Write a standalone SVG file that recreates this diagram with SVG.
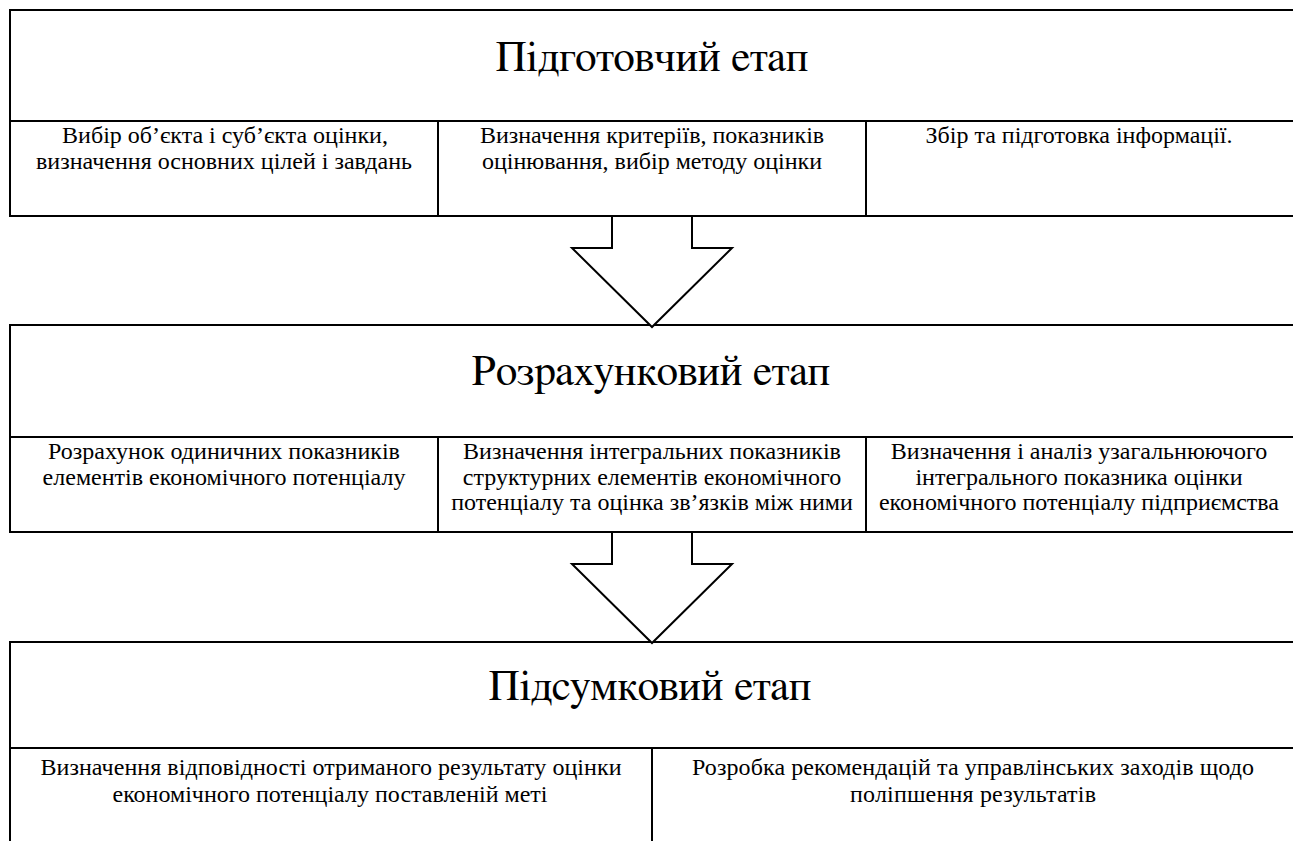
<svg xmlns="http://www.w3.org/2000/svg" width="1293" height="841" viewBox="0 0 1293 841">
<style>
.box{fill:none;stroke:#000;stroke-width:2}
.ln{stroke:#000;stroke-width:2;fill:none}
.arrow{fill:#fff;stroke:#000;stroke-width:2;stroke-linejoin:miter}
</style>
<rect width="1293" height="841" fill="#fff"/>
<g id="s1a"><text font-family="Liberation Serif" font-size="24" text-anchor="middle" x="225" y="143">Вибір об’єкта і суб’єкта оцінки,</text><text font-family="Liberation Serif" font-size="24" text-anchor="middle" x="224" y="169">визначення основних цілей і завдань</text></g>
<g id="s1b"><text font-family="Liberation Serif" font-size="24" text-anchor="middle" x="652" y="143">Визначення критеріїв, показників</text><text font-family="Liberation Serif" font-size="24" text-anchor="middle" x="652" y="169">оцінювання, вибір методу оцінки</text></g>
<g id="s1c"><text font-family="Liberation Serif" font-size="24" text-anchor="middle" x="1079" y="143">Збір та підготовка інформації.</text></g>
<g id="s2a"><text font-family="Liberation Serif" font-size="24" text-anchor="middle" x="224" y="459">Розрахунок одиничних показників</text><text font-family="Liberation Serif" font-size="24" text-anchor="middle" x="224" y="484.5">елементів економічного потенціалу</text></g>
<g id="s2b"><text font-family="Liberation Serif" font-size="24" text-anchor="middle" x="652" y="459">Визначення інтегральних показників</text><text font-family="Liberation Serif" font-size="24" text-anchor="middle" x="652" y="484.5">структурних елементів економічного</text><text font-family="Liberation Serif" font-size="24" text-anchor="middle" x="652" y="510">потенціалу та оцінка зв’язків між ними</text></g>
<g id="s2c"><text font-family="Liberation Serif" font-size="24" text-anchor="middle" x="1079" y="459">Визначення і аналіз узагальнюючого</text><text font-family="Liberation Serif" font-size="24" text-anchor="middle" x="1079" y="484.5">інтегрального показника оцінки</text><text font-family="Liberation Serif" font-size="24" text-anchor="middle" x="1079" y="510">економічного потенціалу підприємства</text></g>
<g id="s3a"><text font-family="Liberation Serif" font-size="24" text-anchor="middle" x="331" y="775" textLength="581">Визначення відповідності отриманого результату оцінки</text><text font-family="Liberation Serif" font-size="24" text-anchor="middle" x="330" y="802" textLength="435">економічного потенціалу поставленій меті</text></g>
<g id="s3b"><text font-family="Liberation Serif" font-size="24" text-anchor="middle" x="973" y="775" textLength="562">Розробка рекомендацій та управлінських заходів щодо</text><text font-family="Liberation Serif" font-size="24" text-anchor="middle" x="973" y="802" textLength="246">поліпшення результатів</text></g>

<g id="stage1">
<rect class="box" x="10" y="10" width="1290" height="206"/>
<line class="ln" x1="10" y1="121" x2="1300" y2="121"/>
<line class="ln" x1="438" y1="121" x2="438" y2="216"/>
<line class="ln" x1="866" y1="121" x2="866" y2="216"/>
<text font-family="FreeSerif" font-size="43" text-anchor="middle" x="652" y="71">Підготовчий етап</text>
</g>
<g id="stage2">
<rect class="box" x="10" y="325" width="1290" height="207"/>
<line class="ln" x1="10" y1="437" x2="1300" y2="437"/>
<line class="ln" x1="438" y1="437" x2="438" y2="532"/>
<line class="ln" x1="866" y1="437" x2="866" y2="532"/>
<text font-family="FreeSerif" font-size="43" text-anchor="middle" x="651" y="385">Розрахунковий етап</text>
</g>
<g id="stage3">
<path class="ln" d="M10,850 V642 H1300"/>
<line class="ln" x1="10" y1="748" x2="1300" y2="748"/>
<line class="ln" x1="652" y1="748" x2="652" y2="850"/>
<text font-family="FreeSerif" font-size="43" text-anchor="middle" x="650" y="700">Підсумковий етап</text>
</g>

<g id="connectors">
<polygon class="arrow" points="612,216 612,248 572,248 652,327 732,248 692,248 692,216"/>
<polygon class="arrow" points="612,532 612,564 572,564 652,643 732,564 692,564 692,532"/>
</g>
</svg>
